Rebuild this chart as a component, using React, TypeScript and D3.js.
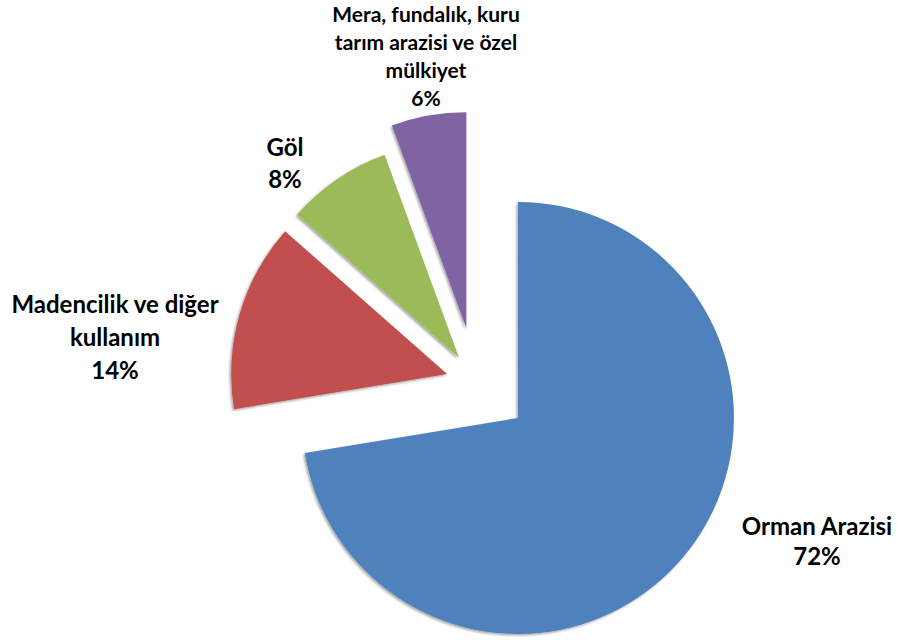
import React from 'react';
import * as d3 from 'd3';

// Data
const categories = [
  'Orman Arazisi',
  'Madencilik ve diğer kullanım',
  'Göl',
  'Mera, fundalık, kuru tarım arazisi ve özel mülkiyet',
];
const values = [72.4, 14.1, 7.9, 5.6];
const labelLines = [
  ['Orman Arazisi'],
  ['Madencilik ve diğer', 'kullanım'],
  ['Göl'],
  ['Mera, fundalık, kuru', 'tarım arazisi ve özel', 'mülkiyet'],
];

// Styles / layout
const colors = ['#4F81BD', '#C0504D', '#9BBB59', '#8064A2'];
const explode = [55, 30, 30, 55];
const labelX = [817, 115, 285, 426];
const labelY = [535, 313, 156, 22];
const labelSize = [24, 24, 24, 21];
const lineGap = [30, 33, 32, 28];

const W = 897;
const H = 644;
const CX = 476;
const CY = 382.4;
const R = 216;

export default function App() {
  const pie = d3
    .pie<number>()
    .sort(null)
    .startAngle(0)
    .endAngle(2 * Math.PI)
    .value((d) => d);
  const arcs = pie(values);
  const arc = d3.arc<d3.PieArcDatum<number>>().innerRadius(0).outerRadius(R);

  return (
    <svg
      width={W}
      height={H}
      style={{ position: 'absolute', left: 0, top: 0, background: '#fff' }}
      fontFamily="Lato, 'Open Sans', sans-serif"
    >
      <defs>
        <filter id="sh" x="-20%" y="-20%" width="140%" height="140%">
          <feDropShadow dx={-1.5} dy={1.5} stdDeviation={1.3} floodColor="#000" floodOpacity={0.35} />
        </filter>
      </defs>
      <g transform={`translate(${CX},${CY})`}>
        {arcs.map((a, i) => {
          const mid = (a.startAngle + a.endAngle) / 2;
          const dx = Math.sin(mid) * explode[i];
          const dy = -Math.cos(mid) * explode[i];
          return (
            <path
              key={categories[i]}
              d={arc(a) || ''}
              transform={`translate(${dx},${dy})`}
              fill={colors[i]}
              filter="url(#sh)"
            />
          );
        })}
      </g>
      {labelLines.map((lines, i) => {
        const all = [...lines, `${Math.round(values[i])}%`];
        return (
          <text
            key={categories[i]}
            x={labelX[i]}
            y={labelY[i]}
            textAnchor="middle"
            fontWeight="bold"
            fontSize={labelSize[i]}
            fill="#000"
          >
            {all.map((t, j) => (
              <tspan key={j} x={labelX[i]} y={labelY[i] + j * lineGap[i]}>
                {t}
              </tspan>
            ))}
          </text>
        );
      })}
    </svg>
  );
}
